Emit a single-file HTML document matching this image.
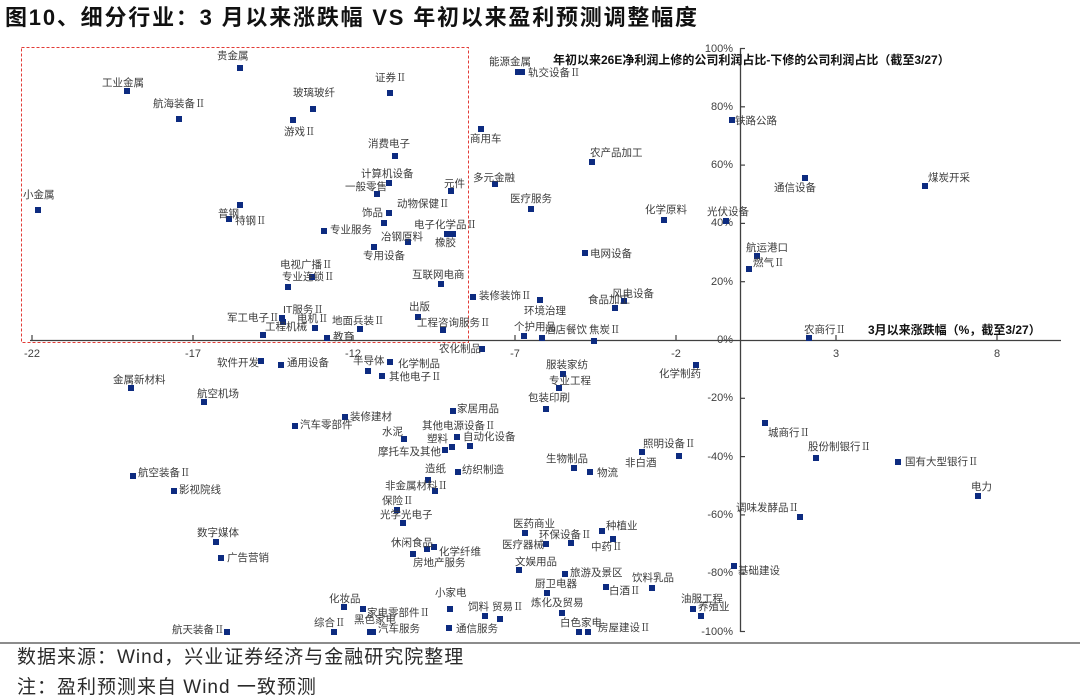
<!DOCTYPE html>
<html>
<head>
<meta charset="utf-8">
<style>
html,body{margin:0;padding:0;}
body{width:1080px;height:699px;position:relative;background:#fff;overflow:hidden;font-family:"Liberation Sans","Noto Sans CJK SC",sans-serif;}
i{position:absolute;width:6px;height:6px;background:#0d2b80;display:block;}
b{position:absolute;font-weight:normal;font-size:10.5px;line-height:12px;color:#3c3c3c;white-space:nowrap;}
u{display:inline-block;width:10.5px;text-align:center;text-decoration:none;font-family:"Liberation Serif","Noto Serif CJK SC",serif;}
.yl{position:absolute;right:347px;font-size:11px;line-height:14px;color:#404040;text-align:right;}
.xl{position:absolute;width:40px;margin-left:-20px;text-align:center;font-size:11px;line-height:14px;color:#404040;top:347px;}
.at{position:absolute;font-size:12px;line-height:14px;font-weight:bold;color:#111;white-space:nowrap;}
.title{position:absolute;left:5px;top:5px;font-size:22px;line-height:26px;font-weight:bold;color:#111;letter-spacing:1.8px;white-space:nowrap;}
.ft{position:absolute;left:17px;font-size:19px;line-height:24px;color:#2a2a2a;letter-spacing:1px;white-space:nowrap;}
svg{position:absolute;left:0;top:0;}
</style>
</head>
<body>
<div class="title">图10、细分行业：3 月以来涨跌幅 VS 年初以来盈利预测调整幅度</div>

<svg width="1080" height="699" viewBox="0 0 1080 699">
<rect x="21.5" y="47.5" width="447" height="295" fill="none" stroke="#e23b36" stroke-width="1" stroke-dasharray="3 2"/>
<line x1="30" y1="340.5" x2="1061" y2="340.5" stroke="#404040" stroke-width="1.3"/>
<g stroke="#404040" stroke-width="1.2">
<line x1="32" y1="335" x2="32" y2="340"/>
<line x1="193" y1="335" x2="193" y2="340"/>
<line x1="353" y1="335" x2="353" y2="340"/>
<line x1="515" y1="335" x2="515" y2="340"/>
<line x1="676" y1="335" x2="676" y2="340"/>
<line x1="836" y1="335" x2="836" y2="340"/>
<line x1="997" y1="335" x2="997" y2="340"/>
</g>
<line x1="740.5" y1="48" x2="740.5" y2="632" stroke="#404040" stroke-width="1.3"/>
<g stroke="#404040" stroke-width="1.2">
<line x1="740" y1="48.5" x2="745" y2="48.5"/>
<line x1="740" y1="106.8" x2="745" y2="106.8"/>
<line x1="740" y1="165.1" x2="745" y2="165.1"/>
<line x1="740" y1="223.4" x2="745" y2="223.4"/>
<line x1="740" y1="281.7" x2="745" y2="281.7"/>
<line x1="740" y1="398.3" x2="745" y2="398.3"/>
<line x1="740" y1="456.6" x2="745" y2="456.6"/>
<line x1="740" y1="514.9" x2="745" y2="514.9"/>
<line x1="740" y1="573.2" x2="745" y2="573.2"/>
<line x1="740" y1="631.5" x2="745" y2="631.5"/>
</g>
<line x1="0" y1="643" x2="1080" y2="643" stroke="#8c8c8c" stroke-width="2"/>
</svg>

<div class="yl" style="top:42px">100%</div>
<div class="yl" style="top:100px">80%</div>
<div class="yl" style="top:158px">60%</div>
<div class="yl" style="top:216px">40%</div>
<div class="yl" style="top:275px">20%</div>
<div class="yl" style="top:333px">0%</div>
<div class="yl" style="top:391px">-20%</div>
<div class="yl" style="top:450px">-40%</div>
<div class="yl" style="top:508px">-60%</div>
<div class="yl" style="top:566px">-80%</div>
<div class="yl" style="top:625px">-100%</div>

<div class="xl" style="left:32px">-22</div>
<div class="xl" style="left:193px">-17</div>
<div class="xl" style="left:353px">-12</div>
<div class="xl" style="left:515px">-7</div>
<div class="xl" style="left:676px">-2</div>
<div class="xl" style="left:836px">3</div>
<div class="xl" style="left:997px">8</div>

<div class="at" style="left:553px;top:53px">年初以来26E净利润上修的公司利润占比-下修的公司利润占比（截至3/27）</div>
<div class="at" style="left:868px;top:323px">3月以来涨跌幅（%，截至3/27）</div>

<!-- markers -->
<i style="left:237px;top:65px"></i>
<i style="left:124px;top:88px"></i>
<i style="left:176px;top:116px"></i>
<i style="left:310px;top:106px"></i>
<i style="left:290px;top:117px"></i>
<i style="left:387px;top:90px"></i>
<i style="left:515px;top:69px"></i>
<i style="left:519px;top:69px"></i>
<i style="left:478px;top:126px"></i>
<i style="left:729px;top:117px"></i>
<i style="left:392px;top:153px"></i>
<i style="left:589px;top:159px"></i>
<i style="left:386px;top:180px"></i>
<i style="left:374px;top:191px"></i>
<i style="left:448px;top:188px"></i>
<i style="left:492px;top:181px"></i>
<i style="left:802px;top:175px"></i>
<i style="left:922px;top:183px"></i>
<i style="left:35px;top:207px"></i>
<i style="left:237px;top:202px"></i>
<i style="left:226px;top:216px"></i>
<i style="left:386px;top:210px"></i>
<i style="left:381px;top:220px"></i>
<i style="left:321px;top:228px"></i>
<i style="left:528px;top:206px"></i>
<i style="left:661px;top:217px"></i>
<i style="left:723px;top:218px"></i>
<i style="left:444px;top:231px"></i>
<i style="left:450px;top:231px"></i>
<i style="left:405px;top:239px"></i>
<i style="left:371px;top:244px"></i>
<i style="left:582px;top:250px"></i>
<i style="left:754px;top:253px"></i>
<i style="left:746px;top:266px"></i>
<i style="left:309px;top:274px"></i>
<i style="left:285px;top:284px"></i>
<i style="left:438px;top:281px"></i>
<i style="left:470px;top:294px"></i>
<i style="left:537px;top:297px"></i>
<i style="left:621px;top:298px"></i>
<i style="left:612px;top:305px"></i>
<i style="left:415px;top:314px"></i>
<i style="left:279px;top:315px"></i>
<i style="left:280px;top:319px"></i>
<i style="left:312px;top:325px"></i>
<i style="left:260px;top:332px"></i>
<i style="left:357px;top:326px"></i>
<i style="left:324px;top:335px"></i>
<i style="left:440px;top:327px"></i>
<i style="left:521px;top:333px"></i>
<i style="left:539px;top:335px"></i>
<i style="left:591px;top:338px"></i>
<i style="left:806px;top:335px"></i>
<i style="left:479px;top:346px"></i>
<i style="left:258px;top:358px"></i>
<i style="left:278px;top:362px"></i>
<i style="left:365px;top:368px"></i>
<i style="left:387px;top:359px"></i>
<i style="left:379px;top:373px"></i>
<i style="left:693px;top:362px"></i>
<i style="left:560px;top:371px"></i>
<i style="left:556px;top:385px"></i>
<i style="left:128px;top:385px"></i>
<i style="left:201px;top:399px"></i>
<i style="left:543px;top:406px"></i>
<i style="left:450px;top:408px"></i>
<i style="left:342px;top:414px"></i>
<i style="left:292px;top:423px"></i>
<i style="left:762px;top:420px"></i>
<i style="left:454px;top:434px"></i>
<i style="left:401px;top:436px"></i>
<i style="left:467px;top:443px"></i>
<i style="left:449px;top:444px"></i>
<i style="left:442px;top:447px"></i>
<i style="left:639px;top:449px"></i>
<i style="left:676px;top:453px"></i>
<i style="left:813px;top:455px"></i>
<i style="left:895px;top:459px"></i>
<i style="left:571px;top:465px"></i>
<i style="left:587px;top:469px"></i>
<i style="left:455px;top:469px"></i>
<i style="left:130px;top:473px"></i>
<i style="left:425px;top:477px"></i>
<i style="left:432px;top:488px"></i>
<i style="left:171px;top:488px"></i>
<i style="left:975px;top:493px"></i>
<i style="left:394px;top:507px"></i>
<i style="left:797px;top:514px"></i>
<i style="left:400px;top:520px"></i>
<i style="left:599px;top:528px"></i>
<i style="left:522px;top:530px"></i>
<i style="left:610px;top:536px"></i>
<i style="left:213px;top:539px"></i>
<i style="left:568px;top:540px"></i>
<i style="left:543px;top:541px"></i>
<i style="left:431px;top:544px"></i>
<i style="left:424px;top:546px"></i>
<i style="left:410px;top:551px"></i>
<i style="left:218px;top:555px"></i>
<i style="left:731px;top:563px"></i>
<i style="left:516px;top:567px"></i>
<i style="left:562px;top:571px"></i>
<i style="left:603px;top:584px"></i>
<i style="left:649px;top:585px"></i>
<i style="left:544px;top:590px"></i>
<i style="left:341px;top:604px"></i>
<i style="left:360px;top:606px"></i>
<i style="left:447px;top:606px"></i>
<i style="left:690px;top:606px"></i>
<i style="left:559px;top:610px"></i>
<i style="left:482px;top:613px"></i>
<i style="left:698px;top:613px"></i>
<i style="left:497px;top:616px"></i>
<i style="left:446px;top:625px"></i>
<i style="left:331px;top:629px"></i>
<i style="left:367px;top:629px"></i>
<i style="left:370px;top:629px"></i>
<i style="left:224px;top:629px"></i>
<i style="left:576px;top:629px"></i>
<i style="left:585px;top:629px"></i>

<!-- labels -->
<b style="left:217px;top:50px">贵金属</b>
<b style="left:102px;top:77px">工业金属</b>
<b style="left:153px;top:98px">航海装备<u>Ⅱ</u></b>
<b style="left:293px;top:87px">玻璃玻纤</b>
<b style="left:284px;top:126px">游戏<u>Ⅱ</u></b>
<b style="left:375px;top:72px">证券<u>Ⅱ</u></b>
<b style="left:489px;top:56px">能源金属</b>
<b style="left:528px;top:67px">轨交设备<u>Ⅱ</u></b>
<b style="left:470px;top:133px">商用车</b>
<b style="left:735px;top:115px">铁路公路</b>
<b style="left:368px;top:138px">消费电子</b>
<b style="left:590px;top:147px">农产品加工</b>
<b style="left:361px;top:168px">计算机设备</b>
<b style="left:345px;top:181px">一般零售</b>
<b style="left:444px;top:178px">元件</b>
<b style="left:473px;top:172px">多元金融</b>
<b style="left:774px;top:182px">通信设备</b>
<b style="left:928px;top:172px">煤炭开采</b>
<b style="left:23px;top:189px">小金属</b>
<b style="left:218px;top:208px">普钢</b>
<b style="left:235px;top:215px">特钢<u>Ⅱ</u></b>
<b style="left:362px;top:207px">饰品</b>
<b style="left:397px;top:198px">动物保健<u>Ⅱ</u></b>
<b style="left:330px;top:224px">专业服务</b>
<b style="left:510px;top:193px">医疗服务</b>
<b style="left:645px;top:204px">化学原料</b>
<b style="left:707px;top:206px">光伏设备</b>
<b style="left:414px;top:219px">电子化学品<u>Ⅱ</u></b>
<b style="left:435px;top:237px">橡胶</b>
<b style="left:381px;top:231px">冶钢原料</b>
<b style="left:363px;top:250px">专用设备</b>
<b style="left:590px;top:248px">电网设备</b>
<b style="left:746px;top:242px">航运港口</b>
<b style="left:753px;top:257px">燃气<u>Ⅱ</u></b>
<b style="left:280px;top:259px">电视广播<u>Ⅱ</u></b>
<b style="left:282px;top:271px">专业连锁<u>Ⅱ</u></b>
<b style="left:412px;top:269px">互联网电商</b>
<b style="left:479px;top:290px">装修装饰<u>Ⅱ</u></b>
<b style="left:524px;top:305px">环境治理</b>
<b style="left:612px;top:288px">风电设备</b>
<b style="left:588px;top:294px">食品加工</b>
<b style="left:409px;top:301px">出版</b>
<b style="left:227px;top:312px">军工电子<u>Ⅱ</u></b>
<b style="left:283px;top:304px">IT服务<u>Ⅱ</u></b>
<b style="left:297px;top:313px">电机<u>Ⅱ</u></b>
<b style="left:265px;top:321px">工程机械</b>
<b style="left:332px;top:315px">地面兵装<u>Ⅱ</u></b>
<b style="left:333px;top:331px">教育</b>
<b style="left:417px;top:317px">工程咨询服务<u>Ⅱ</u></b>
<b style="left:514px;top:321px">个护用品</b>
<b style="left:545px;top:324px">酒店餐饮</b>
<b style="left:589px;top:324px">焦炭<u>Ⅱ</u></b>
<b style="left:804px;top:324px">农商行<u>Ⅱ</u></b>
<b style="left:439px;top:343px">农化制品</b>
<b style="left:217px;top:357px">软件开发</b>
<b style="left:287px;top:357px">通用设备</b>
<b style="left:353px;top:355px">半导体</b>
<b style="left:398px;top:358px">化学制品</b>
<b style="left:389px;top:371px">其他电子<u>Ⅱ</u></b>
<b style="left:659px;top:368px">化学制药</b>
<b style="left:546px;top:359px">服装家纺</b>
<b style="left:549px;top:375px">专业工程</b>
<b style="left:113px;top:374px">金属新材料</b>
<b style="left:197px;top:388px">航空机场</b>
<b style="left:528px;top:392px">包装印刷</b>
<b style="left:457px;top:403px">家居用品</b>
<b style="left:350px;top:411px">装修建材</b>
<b style="left:300px;top:419px">汽车零部件</b>
<b style="left:768px;top:427px">城商行<u>Ⅱ</u></b>
<b style="left:422px;top:420px">其他电源设备<u>Ⅱ</u></b>
<b style="left:382px;top:426px">水泥</b>
<b style="left:463px;top:431px">自动化设备</b>
<b style="left:427px;top:433px">塑料</b>
<b style="left:378px;top:446px">摩托车及其他</b>
<b style="left:643px;top:438px">照明设备<u>Ⅱ</u></b>
<b style="left:625px;top:457px">非白酒</b>
<b style="left:808px;top:441px">股份制银行<u>Ⅱ</u></b>
<b style="left:905px;top:456px">国有大型银行<u>Ⅱ</u></b>
<b style="left:546px;top:453px">生物制品</b>
<b style="left:597px;top:467px">物流</b>
<b style="left:462px;top:464px">纺织制造</b>
<b style="left:138px;top:467px">航空装备<u>Ⅱ</u></b>
<b style="left:425px;top:463px">造纸</b>
<b style="left:385px;top:480px">非金属材料<u>Ⅱ</u></b>
<b style="left:179px;top:484px">影视院线</b>
<b style="left:971px;top:481px">电力</b>
<b style="left:382px;top:495px">保险<u>Ⅱ</u></b>
<b style="left:736px;top:502px">调味发酵品<u>Ⅱ</u></b>
<b style="left:380px;top:509px">光学光电子</b>
<b style="left:606px;top:520px">种植业</b>
<b style="left:513px;top:518px">医药商业</b>
<b style="left:591px;top:541px">中药<u>Ⅱ</u></b>
<b style="left:197px;top:527px">数字媒体</b>
<b style="left:539px;top:529px">环保设备<u>Ⅱ</u></b>
<b style="left:502px;top:539px">医疗器械</b>
<b style="left:439px;top:546px">化学纤维</b>
<b style="left:391px;top:537px">休闲食品</b>
<b style="left:413px;top:557px">房地产服务</b>
<b style="left:227px;top:552px">广告营销</b>
<b style="left:738px;top:565px">基础建设</b>
<b style="left:515px;top:556px">文娱用品</b>
<b style="left:570px;top:567px">旅游及景区</b>
<b style="left:609px;top:585px">白酒<u>Ⅱ</u></b>
<b style="left:632px;top:572px">饮料乳品</b>
<b style="left:535px;top:578px">厨卫电器</b>
<b style="left:329px;top:593px">化妆品</b>
<b style="left:367px;top:607px">家电零部件<u>Ⅱ</u></b>
<b style="left:435px;top:587px">小家电</b>
<b style="left:681px;top:593px">油服工程</b>
<b style="left:531px;top:597px">炼化及贸易</b>
<b style="left:468px;top:601px">饲料</b>
<b style="left:698px;top:601px">养殖业</b>
<b style="left:492px;top:601px">贸易<u>Ⅱ</u></b>
<b style="left:456px;top:623px">通信服务</b>
<b style="left:314px;top:617px">综合<u>Ⅱ</u></b>
<b style="left:354px;top:614px">黑色家电</b>
<b style="left:378px;top:623px">汽车服务</b>
<b style="left:172px;top:624px">航天装备<u>Ⅱ</u></b>
<b style="left:560px;top:617px">白色家电</b>
<b style="left:598px;top:622px">房屋建设<u>Ⅱ</u></b>

<div class="ft" style="top:646px">数据来源：Wind，兴业证券经济与金融研究院整理</div>
<div class="ft" style="top:676px">注：盈利预测来自 Wind 一致预测</div>
</body>
</html>
